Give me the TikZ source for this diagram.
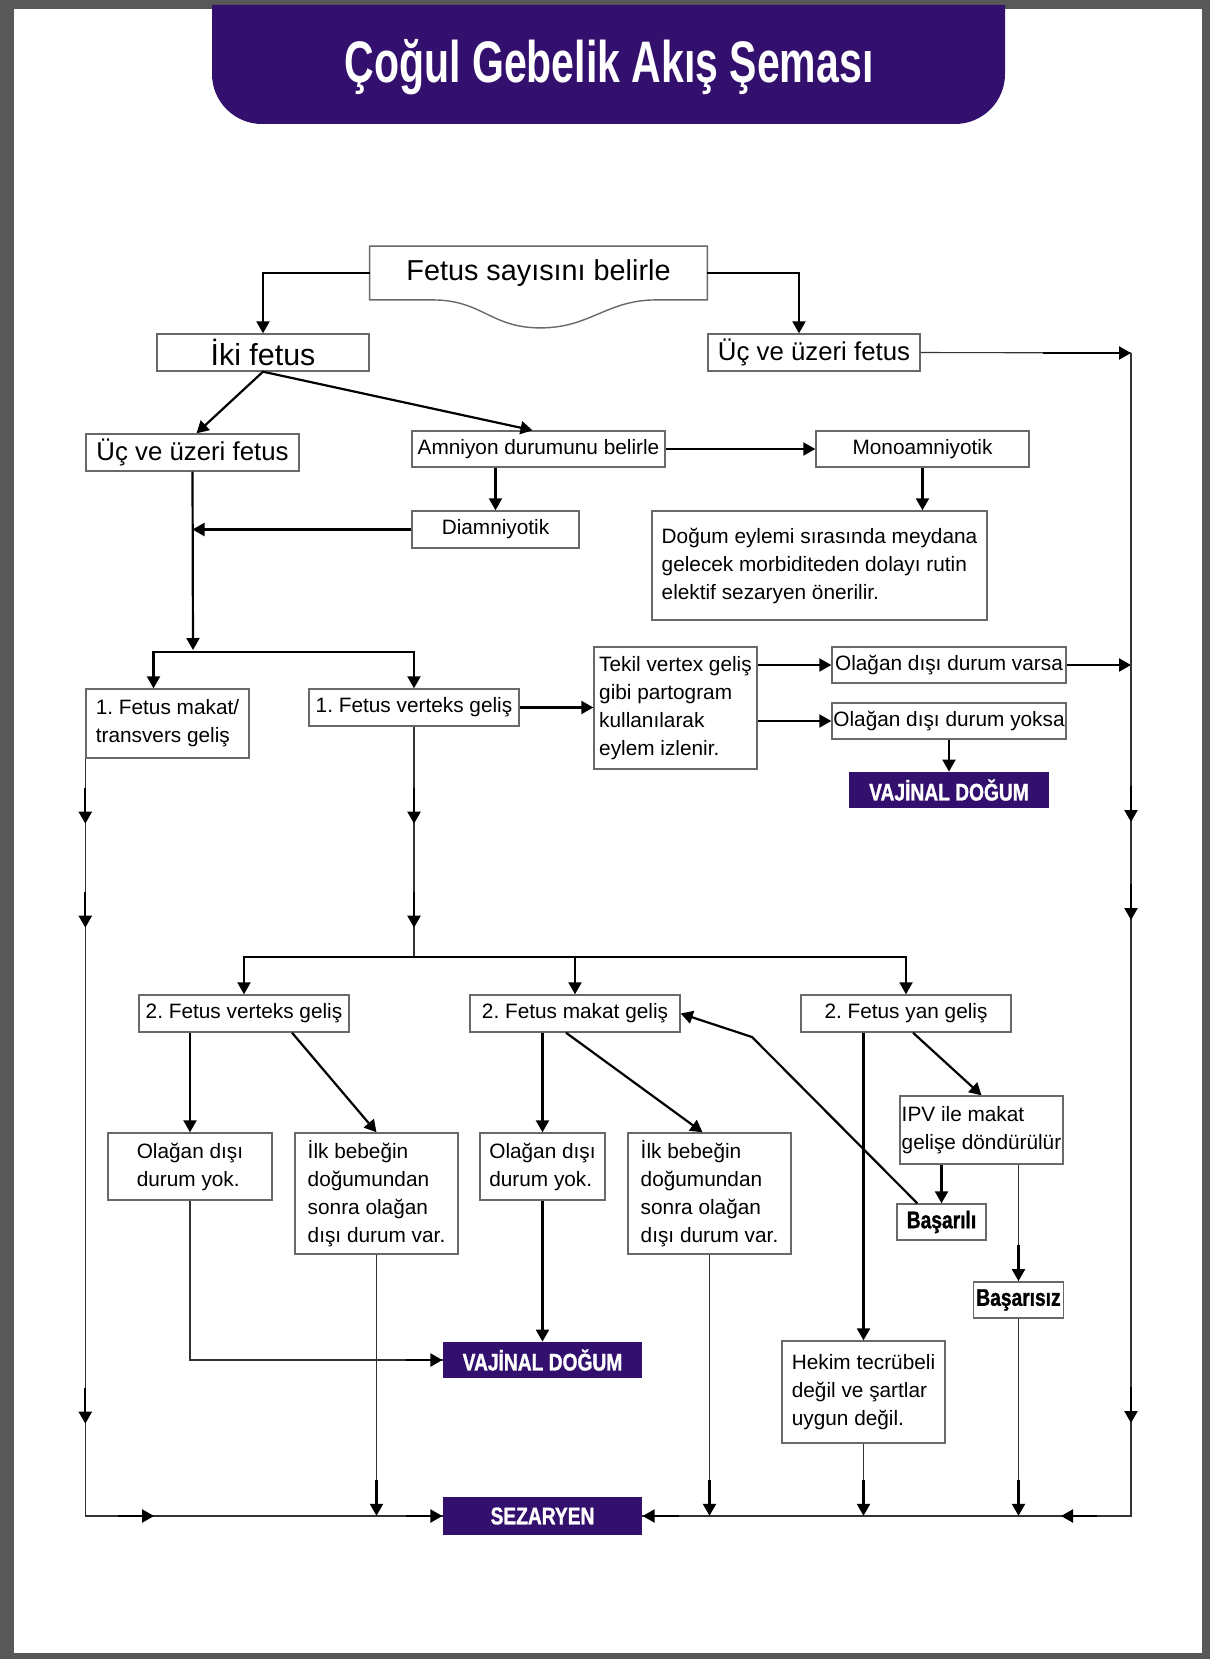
\documentclass[tikz,border=0pt]{standalone}
\usepackage{fontspec}
\setmainfont{Liberation Sans}
\newfontfamily\titlefont[FakeStretch=0.7]{Liberation Sans}
\newfontfamily\heavyfont[FakeStretch=0.8,FakeBold=1.2]{Liberation Sans}
\usetikzlibrary{arrows.meta,decorations.markings}

\definecolor{deep}{RGB}{51,16,110}
\definecolor{framegray}{RGB}{88,88,88}
\definecolor{boxgray}{RGB}{105,105,105}

\def\bodysize{\fontsize{10.4pt}{14pt}\selectfont}
\def\heavysize{\heavyfont\bfseries\fontsize{12pt}{14pt}\selectfont}
\def\leadlen{18pt}

\begin{document}
\begin{tikzpicture}[x=0.5pt,y=-0.5pt,>={Triangle[length=6pt,width=6.5pt]}]
    \tikzstyle{box}=[draw=boxgray,line width=0.7pt,fill=white,inner sep=0pt,align=left,font=\bodysize]
    \tikzstyle{dark box}=[fill=deep,text=white,inner sep=0pt,font=\heavysize]
    \tikzstyle{bold box}=[box,font=\heavysize]
    \tikzstyle{conn}=[draw=black,line width=1.1pt,->]
    \tikzstyle{thin line}=[draw=black!80,line width=0.55pt]
    \tikzset{wh/.style 2 args={minimum width=#1*0.5pt,minimum height=#2*0.5pt},
        head at/.style={postaction={decorate,decoration={markings,
            mark=at position #1 with {\draw[black,line width=1.1pt,->] (-\leadlen,0) -- (0pt,0);}}}}}

    % Page frame and title band
    \useasboundingbox (0,0) rectangle (1210,1659);
    \fill[framegray] (0,0) rectangle (1210,1659);
    \fill[white] (14,9) rectangle (1202,1653);
    \fill[deep] (212,5) -- (212,74) arc[start angle=180,end angle=270,radius=25pt]
        -- (955,124) arc[start angle=270,end angle=360,radius=25pt] -- (1005,5) -- cycle;
    \node[text=white,anchor=base,font=\titlefont\bfseries\fontsize{29.3pt}{32pt}\selectfont] (title) at (609,83) {Çoğul Gebelik Akış Şeması};

    % Number of fetuses
    \node[wh={337}{53},inner sep=0pt,font=\fontsize{14.4pt}{16pt}\selectfont] (count) at (538.5,273) {Fetus sayısını belirle};
    \draw[draw=boxgray,line width=0.7pt] (count.south west) -- (count.north west) -- (count.north east) -- (count.south east)
        -- ++(-51,0) .. controls +(-50,0) and +(50,0) .. ++(-116,28) .. controls +(-50,0) and +(50,0) .. ++(-108,-28) -- cycle;
    \node[box,wh={212}{37},font=\fontsize{15.2pt}{17pt}\selectfont] (iki) at (263,352.5) {İki fetus};
    \node[box,wh={212}{37},font=\fontsize{12.9pt}{15pt}\selectfont] (uc3) at (814,352.5) {Üç ve üzeri fetus};

    % Amnion
    \node[box,wh={213}{37},font=\fontsize{12.9pt}{15pt}\selectfont] (uc2) at (192.5,452.5) {Üç ve üzeri fetus};
    \node[box,wh={253}{36}] (amn) at (538.5,449) {Amniyon durumunu belirle};
    \node[box,wh={213}{36}] (mono) at (922.5,449) {Monoamniyotik};
    \node[box,wh={167}{37}] (diam) at (495.5,529.5) {Diamniyotik};
    \node[box,wh={335}{109}] (elect) at (819.5,565.5) {Doğum eylemi sırasında meydana\\gelecek morbiditeden dolayı rutin\\elektif sezaryen önerilir.};

    % First fetus
    \node[box,wh={163}{69}] (m1) at (167.5,723.5) {1.\ Fetus makat/\\transvers geliş};
    \node[box,wh={210}{37}] (v1) at (414,707.5) {1.\ Fetus verteks geliş};
    \node[box,wh={163}{122}] (tekil) at (675.5,708) {Tekil vertex geliş\\gibi partogram\\kullanılarak\\eylem izlenir.};
    \node[box,wh={234}{36}] (varsa) at (949,665) {Olağan dışı durum varsa};
    \node[box,wh={234}{36}] (yoksa) at (949,721) {Olağan dışı durum yoksa};
    \node[dark box,wh={200}{36}] (vaj1) at (949,790) {VAJİNAL DOĞUM};

    % Second fetus
    \node[box,wh={210}{37}] (v2) at (244,1013.5) {2.\ Fetus verteks geliş};
    \node[box,wh={210}{37}] (m2) at (575,1013.5) {2.\ Fetus makat geliş};
    \node[box,wh={210}{37}] (y2) at (906,1013.5) {2.\ Fetus yan geliş};
    \node[box,wh={164}{67}] (ok1) at (190,1166.5) {Olağan dışı\\durum yok.};
    \node[box,wh={163}{121}] (ilk1) at (376.5,1193.5) {İlk bebeğin\\doğumundan\\sonra olağan\\dışı durum var.};
    \node[box,wh={125}{67}] (ok2) at (542.5,1166.5) {Olağan dışı\\durum yok.};
    \node[box,wh={163}{121}] (ilk2) at (709.5,1193.5) {İlk bebeğin\\doğumundan\\sonra olağan\\dışı durum var.};
    \node[box,wh={163}{68}] (ipv) at (981.5,1130) {IPV ile makat\\gelişe döndürülür};
    \node[bold box,wh={89}{36}] (bas1) at (941.5,1222) {Başarılı};
    \node[bold box,wh={90}{36}] (bas0) at (1018.5,1300) {Başarısız};
    \node[box,wh={163}{102}] (hekim) at (863.5,1392) {Hekim tecrübeli\\değil ve şartlar\\uygun değil.};
    \node[dark box,wh={199}{36}] (vaj2) at (542.5,1360) {VAJİNAL DOĞUM};
    \node[dark box,wh={199}{38}] (sez) at (542.5,1516) {SEZARYEN};

    \coordinate (rtop) at (1131,353);
    \coordinate (split1) at (193,652);
    \coordinate (split2) at (414,957);
    \coordinate (bend) at (752,1037);

    % Upper connections
    \draw[conn] (count.west) -| (iki.north);
    \draw[conn] (count.east) -| ([xshift=-7.5pt]uc3.north);
    \draw[conn] (iki.south) -- ([xshift=2pt]uc2.north);
    \draw[conn] (iki.south) -- ([xshift=-3pt]amn.north);
    \draw[conn] (amn.east) -- (mono.west);
    \draw[conn] (diam.north |- amn.south) -- (diam.north);
    \draw[conn] (mono.south) -- (mono.south |- elect.north);
    \draw[conn] (diam.west) -- (diam.west -| uc2.south);
    \draw[conn] (uc2.south) -- ([yshift=1pt]split1);
    \draw[conn] (split1) -| ([xshift=-7pt]m1.north);
    \draw[conn] (split1) -| (v1.north);
    \draw[conn] (v1.east) -- (v1.east -| tekil.west);
    \draw[conn] (tekil.east |- varsa.west) -- (varsa.west);
    \draw[conn] (tekil.east |- yoksa.west) -- (yoksa.west);
    \draw[conn] (yoksa.south) -- (vaj1.north);
    \draw[conn] (varsa.east) -- (varsa.east -| rtop);

    % Long lines down to the caesarean
    \draw[thin line] (uc3.east) -- (rtop);
    \draw[conn] ([xshift=-44pt]rtop) -- (rtop);
    \draw[thin line,head at=234.5pt,head at=283.5pt,head at=535pt,head at=616.5pt,head at=-0.1pt] (rtop) |- (sez.east);
    \draw[thin line,head at=32.5pt,head at=84.5pt,head at=332.5pt,head at=413pt,head at=-0.1pt] (m1.south west) |- (sez.west);
    \draw[thin line,head at=48.5pt,head at=100.5pt] (v1.south) -- (split2);

    % Lower connections
    \draw[conn] (split2) -| (v2.north);
    \draw[conn] (split2) -| (y2.north);
    \draw[conn] (split2 -| m2.north) -- (m2.north);
    \draw[conn] (ok1.north |- v2.south) -- (ok1.north);
    \draw[conn] ([xshift=24pt]v2.south) -- (ilk1.north);
    \draw[conn] (ok2.north |- m2.south) -- (ok2.north);
    \draw[conn] ([xshift=-4.5pt]m2.south) -- ([xshift=-3.5pt]ilk2.north);
    \draw[conn] (hekim.north |- y2.south) -- (hekim.north);
    \draw[conn] ([xshift=3.5pt]y2.south) -- (ipv.north);
    \draw[conn] (bas1.north |- ipv.south) -- (bas1.north);
    \draw[thin line,head at=-0.1pt] (bas0.north |- ipv.south) -- (bas0.north);
    \draw[conn] ([xshift=10.5pt]bas1.north west) -- (bend) -- (m2.east);
    \draw[thin line,head at=-0.1pt] (ok1.south) |- (vaj2.west);
    \draw[conn] (ok2.south) -- (vaj2.north);
    \foreach \src in {ilk1,ilk2,hekim,bas0}
        \draw[thin line,head at=-0.1pt] (\src.south) -- (\src.south |- sez.west);
\end{tikzpicture}
\end{document}
